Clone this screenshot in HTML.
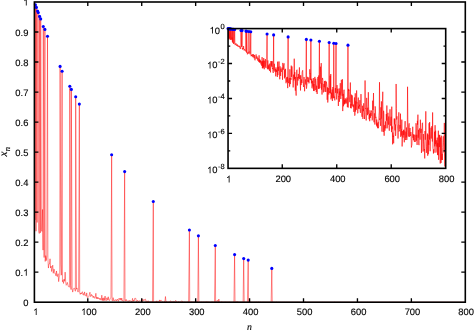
<!DOCTYPE html>
<html><head><meta charset="utf-8"><title>plot</title>
<style>
html,body{margin:0;padding:0;background:#fff;}
#w{position:relative;width:474px;height:333px;overflow:hidden;background:#fff;font-family:"Liberation Sans",sans-serif;}
.t{will-change:transform;text-rendering:geometricPrecision;position:absolute;white-space:nowrap;line-height:1;color:#000;-webkit-text-stroke:0.2px #000;font-family:"Liberation Sans",sans-serif;}
.sup{font-size:7.5px;position:relative;top:-4.5px;margin-left:0.5px}
.ser{will-change:transform;text-rendering:geometricPrecision;position:absolute;white-space:nowrap;line-height:1;color:#000;-webkit-text-stroke:0.2px #000;font-family:"Liberation Serif",serif;font-style:italic;}
.sub{font-size:8.5px;position:relative;top:2.9px;}
</style></head><body><div id="w">
<svg width="474" height="333" viewBox="0 0 474 333" style="position:absolute;left:0;top:0">
<rect width="474" height="333" fill="#fff"/>
<filter id="b" x="0" y="0" width="474" height="333" filterUnits="userSpaceOnUse"><feGaussianBlur stdDeviation="0.3"/></filter>
<path d="M34.40,2.00 L34.94,219.91 L35.40,4.80 L36.02,231.22 L36.40,7.40 L37.10,222.47 L37.60,11.00 L38.30,12.60 L38.71,230.54 L39.25,233.49 L39.60,16.40 L40.33,232.82 L40.70,18.90 L41.41,229.74 L41.95,231.42 L42.49,209.48 L43.03,250.14 L43.30,26.50 L44.11,257.52 L44.90,29.40 L45.19,261.46 L45.73,255.60 L46.26,260.62 L46.80,255.99 L47.50,36.20 L47.88,257.82 L48.42,268.09 L48.96,263.84 L49.50,263.91 L50.04,258.79 L50.58,267.99 L51.12,266.08 L51.66,271.52 L52.20,268.06 L52.74,265.15 L53.28,273.28 L53.81,269.15 L54.35,269.45 L54.89,273.56 L55.43,273.64 L55.97,275.84 L56.51,270.98 L57.05,276.56 L57.59,276.24 L58.13,273.69 L58.67,281.63 L59.21,276.88 L59.75,275.27 L60.10,66.40 L60.83,264.07 L61.36,275.17 L62.10,71.30 L62.44,281.69 L62.98,280.23 L63.52,283.44 L64.06,279.00 L64.60,281.25 L65.14,272.13 L65.68,281.70 L66.22,285.29 L66.76,284.51 L67.30,282.37 L67.84,284.51 L68.38,286.53 L68.92,286.93 L69.45,287.16 L69.80,86.30 L70.53,285.44 L71.07,289.57 L71.35,89.40 L72.15,288.34 L72.69,292.11 L73.23,289.54 L73.77,288.33 L74.31,288.16 L74.85,289.37 L75.39,291.26 L75.70,96.80 L76.47,289.19 L77.00,287.92 L77.54,291.23 L78.08,292.12 L78.62,290.86 L79.35,104.10 L79.70,292.37 L80.24,294.36 L80.78,292.92 L81.32,293.97 L81.86,292.41 L82.40,291.72 L82.94,294.57 L83.48,293.62 L84.02,295.38 L84.55,291.90 L85.09,294.67 L85.63,294.99 L86.17,296.23 L86.71,292.89 L87.25,297.34 L87.79,297.61 L88.33,297.01 L88.87,296.76 L89.41,294.20 L89.95,292.23 L90.49,296.38 L91.03,296.47 L91.57,294.45 L92.11,296.08 L92.64,295.76 L93.18,297.76 L93.72,296.10 L94.26,297.22 L94.80,298.37 L95.34,296.92 L95.88,293.29 L96.42,298.66 L96.96,297.02 L97.50,298.87 L98.04,297.33 L98.58,298.63 L99.12,298.03 L99.66,299.53 L100.19,298.22 L100.73,299.92 L101.27,300.00 L101.81,295.19 L102.35,300.57 L102.89,298.12 L103.43,300.61 L103.97,297.71 L104.51,300.41 L105.05,296.05 L105.59,299.43 L106.13,300.79 L106.67,297.96 L107.21,297.81 L107.74,300.20 L108.28,296.77 L108.82,299.96 L109.36,300.54 L109.90,299.36 L110.44,297.98 L110.98,297.29 L111.65,154.80 L112.06,300.53 L112.60,300.79 L113.14,297.66 L113.68,300.63 L114.22,299.83 L114.76,300.81 L115.29,300.36 L115.83,299.47 L116.37,301.06 L116.91,300.06 L117.45,299.14 L117.99,300.77 L118.53,301.26 L119.07,298.08 L119.61,299.01 L120.15,299.97 L120.69,298.09 L121.23,300.33 L121.77,298.13 L122.31,300.75 L122.85,300.52 L123.38,301.21 L123.92,301.33 L124.65,171.60 L125.00,300.76 L125.54,301.01 L126.08,299.30 L126.62,300.80 L127.16,301.17 L127.70,301.02 L128.24,300.71 L128.78,301.64 L129.32,300.39 L129.86,301.22 L130.40,300.87 L130.93,301.10 L131.47,301.47 L132.01,301.69 L132.55,298.36 L133.09,301.55 L133.63,300.27 L134.17,301.05 L134.71,298.36 L135.25,298.36 L135.79,298.35 L136.33,301.45 L136.87,301.82 L137.41,300.13 L137.95,300.75 L138.48,301.61 L139.02,300.68 L139.56,300.96 L140.10,301.20 L140.64,301.11 L141.18,300.43 L141.72,300.68 L142.26,301.85 L142.80,298.94 L143.34,300.26 L143.88,300.87 L144.42,299.67 L144.96,299.51 L145.50,299.15 L146.03,301.77 L146.57,300.86 L147.11,301.70 L147.65,301.62 L148.19,300.71 L148.73,301.86 L149.27,301.98 L149.81,301.73 L150.35,301.72 L150.89,301.94 L151.43,301.82 L151.97,301.69 L152.51,302.08 L153.30,201.50 L153.59,301.79 L154.12,301.97 L154.66,301.91 L155.20,301.79 L155.74,301.75 L156.28,302.06 L156.82,300.80 L157.36,301.98 L157.90,302.00 L158.44,301.75 L158.98,301.85 L159.52,299.92 L160.06,301.68 L160.60,300.37 L161.14,300.19 L161.67,301.36 L162.21,301.46 L162.75,301.88 L163.29,302.07 L163.83,301.97 L164.37,301.51 L164.91,301.88 L165.45,296.52 L165.99,301.80 L166.53,301.23 L167.07,301.85 L167.61,302.12 L168.15,301.69 L168.69,302.13 L169.22,302.16 L169.76,301.85 L170.30,300.93 L170.84,300.87 L171.38,302.03 L171.92,302.03 L172.46,301.69 L173.00,301.88 L173.54,301.44 L174.08,301.77 L174.62,301.69 L175.16,301.52 L175.70,300.40 L176.24,301.81 L176.77,301.57 L177.31,301.98 L177.85,302.11 L178.39,301.56 L178.93,302.02 L179.47,301.94 L180.01,301.83 L180.55,301.97 L181.09,301.26 L181.63,301.10 L182.17,300.97 L182.71,301.81 L183.25,301.94 L183.79,302.06 L184.33,302.05 L184.86,301.69 L185.40,302.01 L185.94,302.12 L186.48,302.04 L187.02,302.00 L187.56,301.83 L188.10,301.98 L188.64,302.01 L189.40,229.95 L189.72,302.09 L190.26,302.05 L190.80,301.99 L191.34,301.68 L191.88,301.82 L192.41,301.93 L192.95,301.87 L193.49,301.94 L194.03,301.72 L194.57,301.98 L195.11,301.88 L195.65,301.82 L196.19,300.79 L196.73,301.45 L197.27,301.39 L197.81,301.86 L198.40,235.85 L198.89,301.70 L199.43,301.98 L199.96,301.80 L200.50,302.08 L201.04,302.09 L201.58,301.89 L202.12,301.99 L202.66,302.06 L203.20,301.76 L203.74,302.12 L204.28,302.00 L204.82,302.12 L205.36,301.99 L205.90,301.76 L206.44,301.68 L206.98,302.11 L207.52,301.86 L208.05,301.79 L208.59,301.99 L209.13,302.13 L209.67,302.04 L210.21,302.05 L210.75,302.15 L211.29,301.89 L211.83,301.77 L212.37,301.69 L212.91,302.02 L213.45,302.09 L213.99,301.58 L214.53,302.10 L215.30,245.50 L215.60,302.00 L216.14,302.08 L216.68,301.93 L217.22,300.22 L217.76,301.32 L218.30,301.99 L218.84,299.02 L219.38,302.10 L219.92,301.97 L220.46,302.15 L221.00,301.88 L221.54,301.75 L222.08,301.88 L222.62,302.06 L223.15,302.13 L223.69,302.08 L224.23,302.00 L224.77,302.07 L225.31,301.90 L225.85,302.11 L226.39,302.13 L226.93,301.89 L227.47,302.09 L228.01,302.13 L228.55,302.05 L229.09,301.92 L229.63,302.00 L230.17,302.06 L230.70,302.17 L231.24,302.07 L231.78,302.18 L232.32,302.17 L232.86,302.08 L233.40,302.12 L233.94,302.15 L234.60,254.60 L235.02,302.12 L235.56,302.14 L236.10,302.12 L236.64,301.60 L237.18,302.14 L237.72,301.45 L238.26,302.17 L238.79,302.16 L239.33,302.14 L239.87,302.17 L240.41,302.10 L240.95,302.18 L241.49,302.09 L242.03,302.06 L242.57,302.13 L243.11,302.17 L243.70,258.60 L244.19,302.15 L244.73,302.17 L245.27,302.16 L245.81,302.18 L246.34,302.12 L246.88,302.08 L247.42,302.14 L248.20,260.10 L248.50,302.04 L249.04,302.17 L249.58,302.17 L250.12,302.02 L250.66,302.13 L251.20,302.14 L251.74,302.09 L252.28,302.15 L252.82,302.19 L253.36,302.16 L253.89,302.16 L254.43,302.09 L254.97,302.18 L255.51,302.12 L256.05,302.15 L256.59,301.97 L257.13,302.15 L257.67,302.17 L258.21,302.15 L258.75,301.85 L259.29,302.13 L259.83,302.14 L260.37,302.16 L260.91,301.82 L261.44,302.19 L261.98,302.17 L262.52,302.15 L263.06,302.19 L263.60,302.12 L264.14,302.10 L264.68,302.19 L265.22,302.18 L265.76,302.19 L266.30,302.17 L266.84,302.18 L267.38,302.18 L267.92,302.17 L268.46,302.18 L269.00,302.18 L269.53,302.17 L270.07,302.17 L270.61,302.19 L271.15,302.18 L271.80,268.40 L272.23,302.19 L272.77,302.09 L273.31,302.12 L273.85,302.10 L274.39,302.15 L274.93,302.17 L275.47,302.18 L276.01,302.16 L276.55,301.95 L277.08,302.19 L277.62,302.19 L278.16,302.19 L278.70,302.15 L279.24,302.19 L279.78,302.19 L280.32,302.16 L280.86,302.19 L281.40,302.19 L281.94,302.19 L282.48,302.19 L283.02,302.19 L283.56,302.19 L284.10,302.18 L284.63,302.17 L285.17,302.20 L285.71,302.20 L286.25,302.14 L286.79,302.19 L287.33,302.18 L287.87,302.19 L288.41,302.19 L288.95,302.11 L289.49,302.18 L290.03,302.18 L290.57,302.19 L291.11,302.20 L291.65,302.20 L292.18,302.17 L292.72,302.19 L293.26,302.19 L293.80,302.19 L294.34,302.19 L294.88,302.19 L295.42,302.18 L295.96,302.19 L296.50,302.20 L297.04,302.19 L297.58,302.15 L298.12,302.18 L298.66,302.19 L299.20,302.20 L299.74,302.20 L300.27,302.19 L300.81,302.19 L301.35,302.20 L301.89,302.19 L302.43,302.19 L302.97,302.18 L303.51,302.19 L304.05,302.20 L304.59,302.20 L305.13,302.20 L305.67,301.88 L306.21,302.19 L306.75,302.19 L307.29,302.19 L307.82,302.20 L308.36,302.20 L308.90,302.17 L309.44,302.19 L309.98,302.19 L310.52,302.20 L311.06,302.19 L311.60,302.20 L312.14,302.13 L312.68,302.19 L313.22,302.20 L313.76,302.20 L314.30,302.20 L314.84,302.20 L315.37,302.19 L315.91,302.19 L316.45,302.20 L316.99,302.20 L317.53,302.20 L318.07,302.20 L318.61,302.19 L319.15,302.19 L319.69,302.20 L320.23,302.20 L320.77,302.18 L321.31,302.19 L321.85,302.19 L322.39,302.14 L322.93,302.20 L323.46,302.20 L324.00,302.20 L324.54,302.20 L325.08,302.20 L325.62,302.19 L326.16,302.19 L326.70,302.20 L327.24,302.20 L327.78,302.20 L328.32,302.20 L328.86,302.20 L329.40,302.20 L329.94,302.20 L330.48,302.20 L331.01,302.20 L331.55,302.20 L332.09,302.20 L332.63,302.20 L333.17,302.20 L333.71,302.19 L334.25,301.94 L334.79,302.20 L335.33,302.20 L335.87,302.20 L336.41,302.20 L336.95,302.19 L337.49,302.20 L338.03,302.18 L338.56,302.20 L339.10,302.20 L339.64,302.19 L340.18,302.18 L340.72,302.13 L341.26,302.20 L341.80,302.20 L342.34,302.19 L342.88,302.20 L343.42,302.20 L343.96,302.20 L344.50,302.20 L345.04,302.20 L345.58,302.20 L346.11,302.20 L346.65,302.20 L347.19,302.20 L347.73,302.20 L348.27,302.20 L348.81,302.19 L349.35,302.20 L349.89,302.20 L350.43,302.20 L350.97,302.20 L351.51,302.20 L352.05,302.20 L352.59,302.20 L353.13,302.20 L353.67,302.20 L354.20,302.20 L354.74,302.19 L355.28,302.19 L355.82,302.20 L356.36,302.20 L356.90,302.20 L357.44,302.20 L357.98,302.20 L358.52,302.19 L359.06,302.20 L359.60,302.20 L360.14,302.20 L360.68,302.20 L361.22,302.20 L361.75,302.20 L362.29,302.20 L362.83,302.20 L363.37,302.20 L363.91,302.20 L364.45,302.20 L364.99,302.20 L365.53,302.20 L366.07,302.20 L366.61,302.20 L367.15,302.00 L367.69,302.19 L368.23,302.20 L368.77,302.20 L369.30,302.20 L369.84,302.20 L370.38,302.20 L370.92,302.20 L371.46,302.20 L372.00,302.20 L372.54,302.20 L373.08,302.20 L373.62,302.20 L374.16,302.20 L374.70,302.20 L375.24,302.20 L375.78,302.20 L376.32,302.20 L376.85,302.20 L377.39,302.20 L377.93,302.20 L378.47,302.20 L379.01,302.20 L379.55,302.20 L380.09,302.20 L380.63,302.20 L381.17,302.20 L381.71,302.20 L382.25,302.20 L382.79,302.20 L383.33,302.20 L383.87,302.20 L384.41,302.20 L384.94,302.20 L385.48,302.20 L386.02,302.20 L386.56,302.20 L387.10,302.20 L387.64,302.20 L388.18,302.20 L388.72,302.20 L389.26,302.20 L389.80,302.06 L390.34,302.20 L390.88,302.20 L391.42,302.20 L391.96,302.20 L392.49,302.20 L393.03,302.20 L393.57,302.20 L394.11,302.20 L394.65,302.20 L395.19,302.20 L395.73,302.20 L396.27,302.20 L396.81,302.20 L397.35,302.20 L397.89,302.20 L398.43,302.20 L398.97,302.20 L399.51,302.20 L400.04,302.20 L400.58,302.20 L401.12,302.20 L401.66,302.20 L402.20,302.20 L402.74,302.20 L403.28,302.20 L403.82,302.20 L404.36,302.20 L404.90,302.20 L405.44,302.20 L405.98,302.20 L406.52,302.20 L407.06,302.20 L407.59,302.20 L408.13,302.20 L408.67,302.20 L409.21,302.20 L409.75,302.20 L410.29,302.20 L410.83,302.20 L411.37,302.20 L411.91,302.20 L412.45,302.20 L412.99,302.20 L413.53,302.20 L414.07,302.20 L414.61,302.20 L415.15,302.20 L415.68,302.20 L416.22,302.20 L416.76,302.20 L417.30,302.20 L417.84,302.20 L418.38,302.20 L418.92,302.20 L419.46,302.20 L420.00,302.20 L420.54,302.20 L421.08,302.20 L421.62,302.20 L422.16,302.20 L422.70,302.20 L423.23,302.20 L423.77,302.20 L424.31,302.20 L424.85,302.20 L425.39,302.20 L425.93,302.19 L426.47,302.20 L427.01,302.20 L427.55,302.20 L428.09,302.20 L428.63,302.20 L429.17,302.20 L429.71,302.20 L430.25,302.20 L430.78,302.20 L431.32,302.20 L431.86,302.20 L432.40,302.20 L432.94,302.20 L433.48,302.20 L434.02,302.20 L434.56,302.20 L435.10,302.20 L435.64,302.20 L436.18,302.20 L436.72,302.20 L437.26,302.20 L437.80,302.20 L438.34,302.20 L438.87,302.20 L439.41,302.20 L439.95,302.20 L440.49,302.20 L441.03,302.20 L441.57,302.20 L442.11,302.20 L442.65,302.20 L443.19,302.20 L443.73,302.20 L444.27,302.20 L444.81,302.20 L445.35,302.20 L445.89,302.20 L446.42,302.20 L446.96,302.20 L447.50,302.20 L448.04,302.20 L448.58,302.20 L449.12,302.20 L449.66,302.20 L450.20,302.20 L450.74,302.20 L451.28,302.20 L451.82,302.20 L452.36,302.20 L452.90,302.20 L453.44,302.20 L453.97,302.20 L454.51,302.20 L455.05,302.20 L455.59,302.20 L456.13,302.20 L456.67,302.20 L457.21,302.20 L457.75,302.20 L458.29,302.20 L458.83,302.20 L459.37,302.20 L459.91,302.20 L460.45,302.20 L460.99,302.20 L461.52,302.20 L462.06,302.20 L462.60,302.20 L463.14,302.20 L463.68,302.20 L464.22,302.20 L464.76,302.20 L465.30,302.20" fill="none" stroke="#ff0000" stroke-width="0.46" stroke-linejoin="round" filter="url(#b)"/>
<circle cx="35.40" cy="4.80" r="1.55" fill="#0000ff"/>
<circle cx="36.40" cy="7.40" r="1.55" fill="#0000ff"/>
<circle cx="37.60" cy="11.00" r="1.55" fill="#0000ff"/>
<circle cx="38.30" cy="12.60" r="1.55" fill="#0000ff"/>
<circle cx="39.60" cy="16.40" r="1.55" fill="#0000ff"/>
<circle cx="40.70" cy="18.90" r="1.55" fill="#0000ff"/>
<circle cx="43.30" cy="26.50" r="1.55" fill="#0000ff"/>
<circle cx="44.90" cy="29.40" r="1.55" fill="#0000ff"/>
<circle cx="47.50" cy="36.20" r="1.55" fill="#0000ff"/>
<circle cx="60.10" cy="66.40" r="1.55" fill="#0000ff"/>
<circle cx="62.10" cy="71.30" r="1.55" fill="#0000ff"/>
<circle cx="69.80" cy="86.30" r="1.55" fill="#0000ff"/>
<circle cx="71.35" cy="89.40" r="1.55" fill="#0000ff"/>
<circle cx="75.70" cy="96.80" r="1.55" fill="#0000ff"/>
<circle cx="79.35" cy="104.10" r="1.55" fill="#0000ff"/>
<circle cx="111.65" cy="154.80" r="1.55" fill="#0000ff"/>
<circle cx="124.65" cy="171.60" r="1.55" fill="#0000ff"/>
<circle cx="153.30" cy="201.50" r="1.55" fill="#0000ff"/>
<circle cx="189.40" cy="229.95" r="1.55" fill="#0000ff"/>
<circle cx="198.40" cy="235.85" r="1.55" fill="#0000ff"/>
<circle cx="215.30" cy="245.50" r="1.55" fill="#0000ff"/>
<circle cx="234.60" cy="254.60" r="1.55" fill="#0000ff"/>
<circle cx="243.70" cy="258.60" r="1.55" fill="#0000ff"/>
<circle cx="248.20" cy="260.10" r="1.55" fill="#0000ff"/>
<circle cx="271.80" cy="268.40" r="1.55" fill="#0000ff"/>
<rect x="34.4" y="2.0" width="430.90" height="300.20" fill="none" stroke="#000" stroke-width="1.6"/>
<path d="M87.79,302.2 v-4.0 M87.79,2.0 v4.0 M141.72,302.2 v-4.0 M141.72,2.0 v4.0 M195.65,302.2 v-4.0 M195.65,2.0 v4.0 M249.58,302.2 v-4.0 M249.58,2.0 v4.0 M303.51,302.2 v-4.0 M303.51,2.0 v4.0 M357.44,302.2 v-4.0 M357.44,2.0 v4.0 M411.37,302.2 v-4.0 M411.37,2.0 v4.0 M34.4,272.18 h4.0 M465.3,272.18 h-4.0 M34.4,242.16 h4.0 M465.3,242.16 h-4.0 M34.4,212.14 h4.0 M465.3,212.14 h-4.0 M34.4,182.12 h4.0 M465.3,182.12 h-4.0 M34.4,152.10 h4.0 M465.3,152.10 h-4.0 M34.4,122.08 h4.0 M465.3,122.08 h-4.0 M34.4,92.06 h4.0 M465.3,92.06 h-4.0 M34.4,62.04 h4.0 M465.3,62.04 h-4.0 M34.4,32.02 h4.0 M465.3,32.02 h-4.0" stroke="#000" stroke-width="1.35" fill="none"/>
<rect x="228.05" y="28.6" width="217.65" height="139.75" fill="#fff"/>
<clipPath id="c"><rect x="228.05" y="26.6" width="217.65" height="141.75"/></clipPath>
<path d="M228.05,28.60 L228.32,38.42 L228.56,28.67 L228.87,39.54 L229.06,28.74 L229.41,38.66 L229.67,28.83 L230.02,28.87 L230.23,39.47 L230.50,39.79 L230.68,28.97 L231.05,39.71 L231.23,29.04 L231.59,39.38 L231.86,39.56 L232.14,37.51 L232.41,41.89 L232.55,29.25 L232.95,43.05 L233.35,29.33 L233.50,43.75 L233.77,42.73 L234.04,43.60 L234.32,42.80 L234.67,29.52 L234.86,43.10 L235.13,45.10 L235.40,44.21 L235.68,44.22 L235.95,43.27 L236.22,45.08 L236.49,44.67 L236.77,45.90 L237.04,45.09 L237.31,44.47 L237.58,46.35 L237.86,45.34 L238.13,45.41 L238.40,46.43 L238.67,46.45 L238.95,47.05 L239.22,45.77 L239.49,47.27 L239.76,47.17 L240.04,46.46 L240.31,48.94 L240.58,47.36 L240.85,46.89 L241.03,30.43 L241.40,44.26 L241.67,46.86 L242.04,30.59 L242.21,48.96 L242.49,48.44 L242.76,49.63 L243.03,48.03 L243.30,48.80 L243.58,46.06 L243.85,48.96 L244.12,50.42 L244.39,50.08 L244.67,49.22 L244.94,50.08 L245.21,51.00 L245.48,51.20 L245.76,51.31 L245.93,31.10 L246.30,50.49 L246.57,52.64 L246.71,31.21 L247.12,51.93 L247.39,54.34 L247.66,52.62 L247.94,51.93 L248.21,51.84 L248.48,52.52 L248.75,53.72 L248.91,31.48 L249.30,52.41 L249.57,51.70 L249.84,53.71 L250.11,54.35 L250.39,53.45 L250.75,31.75 L250.93,54.54 L251.20,56.26 L251.48,54.97 L251.75,55.88 L252.02,54.57 L252.29,54.06 L252.57,56.46 L252.84,55.57 L253.11,57.31 L253.38,54.18 L253.66,56.56 L253.93,56.89 L254.20,58.32 L254.47,54.95 L254.75,59.88 L255.02,60.31 L255.29,59.39 L255.56,59.03 L255.84,56.11 L256.11,54.43 L256.38,58.52 L256.65,58.64 L256.92,56.34 L257.20,58.13 L257.47,57.75 L257.74,60.57 L258.01,58.16 L258.29,59.70 L258.56,61.68 L258.83,59.26 L259.10,55.29 L259.38,62.28 L259.65,59.40 L259.92,62.75 L260.19,59.87 L260.47,62.23 L260.74,61.05 L261.01,64.44 L261.28,61.40 L261.56,65.64 L261.83,65.88 L262.10,57.11 L262.37,68.16 L262.65,61.21 L262.92,68.36 L263.19,60.49 L263.46,67.48 L263.73,58.09 L264.01,64.14 L264.28,69.26 L264.55,60.92 L264.82,60.65 L265.10,66.61 L265.37,59.05 L265.64,65.76 L265.91,68.04 L266.19,63.95 L266.46,60.96 L266.73,59.81 L267.07,34.00 L267.28,67.98 L267.55,69.25 L267.82,60.40 L268.09,68.47 L268.37,65.35 L268.64,69.37 L268.91,67.24 L269.18,64.25 L269.46,70.87 L269.73,66.12 L270.00,63.40 L270.27,69.14 L270.54,72.38 L270.82,61.14 L271.09,63.07 L271.36,65.79 L271.63,61.15 L271.91,67.12 L272.18,61.23 L272.45,69.04 L272.72,67.93 L273.00,71.92 L273.27,72.93 L273.64,34.91 L273.81,69.09 L274.09,70.54 L274.36,63.79 L274.63,69.31 L274.90,71.66 L275.18,70.60 L275.45,68.86 L275.72,76.31 L275.99,67.39 L276.27,72.00 L276.54,69.72 L276.81,71.14 L277.08,74.21 L277.35,76.94 L277.63,61.67 L277.90,75.11 L278.17,66.88 L278.44,70.83 L278.72,61.67 L278.99,61.66 L279.26,61.66 L279.53,74.04 L279.81,79.29 L280.08,66.37 L280.35,69.05 L280.62,75.91 L280.90,68.72 L281.17,70.23 L281.44,71.87 L281.71,71.22 L281.99,67.54 L282.26,68.70 L282.53,79.79 L282.80,62.91 L283.08,66.84 L283.35,69.72 L283.62,64.83 L283.89,64.37 L284.17,63.41 L284.44,78.36 L284.71,69.66 L284.98,77.14 L285.25,76.04 L285.53,68.83 L285.80,80.05 L286.07,83.25 L286.34,77.68 L286.62,77.37 L286.89,82.04 L287.16,79.17 L287.43,76.92 L287.71,88.13 L288.11,36.89 L288.25,78.55 L288.52,83.14 L288.80,81.39 L289.07,78.61 L289.34,77.95 L289.61,86.65 L289.89,69.32 L290.16,83.26 L290.43,84.10 L290.70,78.01 L290.98,79.81 L291.25,65.62 L291.52,76.87 L291.79,67.29 L292.06,66.58 L292.34,73.20 L292.61,74.12 L292.88,80.58 L293.15,87.42 L293.43,83.16 L293.70,74.68 L293.97,80.47 L294.24,58.70 L294.52,78.88 L294.79,72.11 L295.06,79.74 L295.33,90.65 L295.61,76.93 L295.88,91.80 L296.15,95.59 L296.42,79.80 L296.70,70.08 L296.97,69.73 L297.24,85.19 L297.51,85.44 L297.79,76.96 L298.06,80.55 L298.33,73.93 L298.60,78.32 L298.87,76.92 L299.15,74.82 L299.42,67.42 L299.69,79.02 L299.96,75.36 L300.24,83.27 L300.51,90.47 L300.78,75.30 L301.05,85.06 L301.33,82.16 L301.60,79.48 L301.87,82.97 L302.14,72.31 L302.42,71.14 L302.69,70.32 L302.96,79.07 L303.23,82.03 L303.51,87.01 L303.78,86.13 L304.05,77.06 L304.32,84.65 L304.60,91.27 L304.87,85.89 L305.14,84.09 L305.41,79.37 L305.68,83.49 L305.96,84.56 L306.34,39.41 L306.50,88.66 L306.77,86.31 L307.05,83.77 L307.32,76.84 L307.59,79.19 L307.86,81.70 L308.14,80.30 L308.41,81.98 L308.68,77.43 L308.95,83.35 L309.23,80.43 L309.50,79.20 L309.77,69.28 L310.04,74.04 L310.32,73.51 L310.59,80.10 L310.89,40.05 L311.13,77.13 L311.41,83.31 L311.68,78.86 L311.95,87.78 L312.22,88.39 L312.49,80.80 L312.77,83.68 L313.04,86.53 L313.31,78.03 L313.58,90.84 L313.86,84.01 L314.13,91.08 L314.40,83.62 L314.67,78.03 L314.95,76.87 L315.22,90.06 L315.49,80.07 L315.76,78.69 L316.04,83.63 L316.31,92.10 L316.58,85.72 L316.85,86.52 L317.13,94.00 L317.40,80.86 L317.67,78.34 L317.94,76.94 L318.22,84.84 L318.49,88.72 L318.76,75.45 L319.03,89.05 L319.42,41.24 L319.58,83.91 L319.85,88.12 L320.12,81.85 L320.39,66.69 L320.67,72.81 L320.94,83.62 L321.21,63.11 L321.48,89.60 L321.76,83.11 L322.03,94.54 L322.30,80.52 L322.57,77.92 L322.85,80.44 L323.12,86.98 L323.39,92.40 L323.66,87.76 L323.94,84.03 L324.21,87.27 L324.48,81.09 L324.75,89.82 L325.03,91.84 L325.30,80.80 L325.57,88.88 L325.84,91.93 L326.12,86.21 L326.39,81.61 L326.66,83.90 L326.93,86.56 L327.20,99.75 L327.48,87.39 L327.75,102.50 L328.02,99.11 L328.29,88.03 L328.57,90.94 L328.84,94.55 L329.17,42.57 L329.38,90.68 L329.66,93.07 L329.93,90.84 L330.20,75.76 L330.47,93.46 L330.75,74.04 L331.02,99.37 L331.29,95.68 L331.56,92.66 L331.84,97.85 L332.11,89.54 L332.38,101.03 L332.65,88.54 L332.93,87.00 L333.20,91.80 L333.47,98.24 L333.77,43.24 L334.01,94.28 L334.29,97.58 L334.56,96.71 L334.83,100.40 L335.10,90.62 L335.38,88.07 L335.65,92.86 L336.04,43.50 L336.19,85.88 L336.47,98.95 L336.74,99.46 L337.01,85.08 L337.28,91.81 L337.56,93.34 L337.83,88.77 L338.10,94.05 L338.37,105.98 L338.65,96.11 L338.92,96.73 L339.19,88.43 L339.46,101.76 L339.74,91.49 L340.01,95.15 L340.28,83.18 L340.55,94.60 L340.82,98.97 L341.10,94.06 L341.37,79.79 L341.64,91.95 L341.91,93.66 L342.19,95.82 L342.46,79.26 L342.73,111.08 L343.00,97.79 L343.28,93.89 L343.55,106.25 L343.82,91.27 L344.09,89.70 L344.37,104.38 L344.64,99.92 L344.91,104.07 L345.18,98.26 L345.46,102.59 L345.73,102.63 L346.00,99.29 L346.27,103.51 L346.55,102.45 L346.82,97.63 L347.09,97.98 L347.36,107.11 L347.63,101.24 L347.96,45.17 L348.18,107.56 L348.45,88.91 L348.72,90.92 L349.00,89.67 L349.27,94.69 L349.54,99.75 L349.81,102.18 L350.09,96.49 L350.36,82.52 L350.63,107.91 L350.90,103.94 L351.18,108.39 L351.45,94.67 L351.72,105.41 L351.99,105.06 L352.27,95.41 L352.54,105.56 L352.81,104.94 L353.08,107.10 L353.36,104.55 L353.63,108.55 L353.90,111.93 L354.17,103.49 L354.44,97.48 L354.72,115.67 L354.99,114.94 L355.26,93.31 L355.53,111.55 L355.81,101.21 L356.08,109.17 L356.35,109.84 L356.62,90.47 L356.90,103.35 L357.17,102.46 L357.44,111.58 L357.71,113.33 L357.99,112.93 L358.26,97.59 L358.53,108.36 L358.80,106.20 L359.08,109.10 L359.35,104.69 L359.62,106.38 L359.89,100.14 L360.17,111.93 L360.44,112.86 L360.71,107.43 L360.98,94.08 L361.26,103.40 L361.53,105.64 L361.80,115.40 L362.07,116.80 L362.34,108.62 L362.62,105.73 L362.89,118.95 L363.16,108.70 L363.43,111.13 L363.71,103.27 L363.98,110.34 L364.25,112.30 L364.52,119.01 L364.80,114.33 L365.07,80.48 L365.34,108.11 L365.61,109.05 L365.89,108.30 L366.16,120.47 L366.43,112.40 L366.70,97.86 L366.98,104.77 L367.25,111.43 L367.52,115.17 L367.79,107.73 L368.07,113.88 L368.34,92.24 L368.61,106.29 L368.88,113.65 L369.15,119.29 L369.43,113.86 L369.70,121.19 L369.97,110.35 L370.24,111.51 L370.52,117.79 L370.79,113.15 L371.06,115.92 L371.33,112.59 L371.61,110.51 L371.88,112.05 L372.15,120.40 L372.42,119.36 L372.70,100.69 L372.97,109.92 L373.24,104.87 L373.51,93.02 L373.79,118.33 L374.06,122.29 L374.33,113.33 L374.60,113.83 L374.88,124.54 L375.15,106.34 L375.42,108.40 L375.69,117.73 L375.96,116.89 L376.24,119.55 L376.51,125.51 L376.78,119.54 L377.05,126.70 L377.33,123.27 L377.60,128.19 L377.87,124.72 L378.14,121.83 L378.42,128.21 L378.69,126.42 L378.96,115.50 L379.23,111.97 L379.51,82.23 L379.78,120.04 L380.05,118.41 L380.32,121.14 L380.60,125.92 L380.87,107.32 L381.14,118.65 L381.41,101.37 L381.69,120.92 L381.96,131.62 L382.23,111.67 L382.50,101.29 L382.77,91.76 L383.05,123.12 L383.32,132.04 L383.59,110.79 L383.86,114.43 L384.14,135.72 L384.41,125.31 L384.68,126.37 L384.95,130.70 L385.23,126.69 L385.50,121.47 L385.77,128.32 L386.04,122.74 L386.32,114.06 L386.59,120.56 L386.86,105.52 L387.13,128.39 L387.41,124.95 L387.68,117.49 L387.95,112.81 L388.22,121.22 L388.50,124.67 L388.77,116.50 L389.04,127.51 L389.31,130.69 L389.58,120.80 L389.86,109.61 L390.13,109.27 L390.40,123.36 L390.67,125.70 L390.95,118.42 L391.22,116.74 L391.49,132.13 L391.76,106.66 L392.04,129.35 L392.31,126.41 L392.58,144.33 L392.85,132.47 L393.13,136.96 L393.40,135.66 L393.67,143.30 L393.94,129.77 L394.22,118.53 L394.49,124.40 L394.76,118.71 L395.03,130.43 L395.31,124.49 L395.58,135.86 L395.85,132.51 L396.12,83.98 L396.40,108.68 L396.67,119.47 L396.94,116.32 L397.21,124.16 L397.48,126.13 L397.76,130.19 L398.03,138.53 L398.30,132.55 L398.57,123.43 L398.85,112.34 L399.12,131.44 L399.39,131.13 L399.66,129.70 L399.94,124.90 L400.21,128.71 L400.48,113.66 L400.75,136.89 L401.03,129.26 L401.30,135.62 L401.57,130.35 L401.84,119.63 L402.12,146.46 L402.39,139.54 L402.66,131.07 L402.93,137.08 L403.21,137.56 L403.48,129.75 L403.75,135.08 L404.02,130.52 L404.29,142.30 L404.57,130.33 L404.84,128.73 L405.11,121.15 L405.38,140.05 L405.66,138.25 L405.93,131.60 L406.20,137.47 L406.47,127.53 L406.75,140.03 L407.02,137.62 L407.29,132.60 L407.56,86.77 L407.84,119.81 L408.11,129.58 L408.38,136.55 L408.65,127.86 L408.93,124.46 L409.20,123.33 L409.47,136.81 L409.74,131.15 L410.02,128.00 L410.29,133.99 L410.56,136.07 L410.83,132.03 L411.10,134.19 L411.38,147.45 L411.65,145.66 L411.92,145.14 L412.19,134.46 L412.47,134.51 L412.74,126.76 L413.01,137.77 L413.28,134.23 L413.56,140.18 L413.83,134.90 L414.10,140.83 L414.37,141.95 L414.65,141.32 L414.92,134.59 L415.19,141.95 L415.46,137.45 L415.74,134.35 L416.01,123.24 L416.28,125.88 L416.55,140.63 L416.83,134.75 L417.10,144.92 L417.37,120.80 L417.64,124.65 L417.91,114.66 L418.19,137.72 L418.46,129.83 L418.73,144.16 L419.00,145.15 L419.28,130.90 L419.55,128.42 L419.82,132.64 L420.09,139.65 L420.37,119.73 L420.64,126.95 L420.91,132.93 L421.18,128.86 L421.46,152.93 L421.73,133.67 L422.00,132.57 L422.27,123.07 L422.55,122.75 L422.82,139.92 L423.09,151.57 L423.36,134.04 L423.64,141.82 L423.91,144.81 L424.18,150.48 L424.45,149.05 L424.72,158.42 L425.00,131.01 L425.27,139.72 L425.54,131.93 L425.81,111.32 L426.09,139.56 L426.36,152.87 L426.63,146.38 L426.90,141.58 L427.18,139.11 L427.45,133.55 L427.72,155.71 L427.99,134.65 L428.27,154.16 L428.54,140.29 L428.81,144.84 L429.08,123.23 L429.36,139.59 L429.63,122.09 L429.90,146.72 L430.17,151.23 L430.45,138.91 L430.72,131.96 L430.99,127.69 L431.26,138.57 L431.54,135.05 L431.81,126.20 L432.08,131.51 L432.35,141.53 L432.62,112.45 L432.90,148.33 L433.17,148.83 L433.44,153.52 L433.71,149.39 L433.99,152.78 L434.26,150.20 L434.53,131.69 L434.80,146.36 L435.08,125.21 L435.35,144.23 L435.62,130.66 L435.89,152.60 L436.17,151.21 L436.44,141.30 L436.71,140.31 L436.98,146.55 L437.26,137.64 L437.53,154.89 L437.80,142.92 L438.07,155.22 L438.35,130.70 L438.62,159.77 L438.89,156.05 L439.16,134.85 L439.43,147.06 L439.71,134.93 L439.98,141.98 L440.25,163.53 L440.52,137.49 L440.80,153.04 L441.07,162.90 L441.34,135.71 L441.61,159.83 L441.89,155.24 L442.16,153.87 L442.43,160.02 L442.70,147.46 L442.98,140.25 L443.25,136.32 L443.52,142.53 L443.79,146.59 L444.07,152.61 L444.34,122.93 L444.61,158.82 L444.88,166.48 L445.16,153.24 L445.43,156.74 L445.70,168.35" fill="none" stroke="#ff0000" stroke-width="0.62" stroke-linejoin="round" clip-path="url(#c)"/>
<circle cx="228.05" cy="28.60" r="1.55" fill="#0000ff"/>
<circle cx="228.56" cy="28.67" r="1.55" fill="#0000ff"/>
<circle cx="229.06" cy="28.74" r="1.55" fill="#0000ff"/>
<circle cx="229.67" cy="28.83" r="1.55" fill="#0000ff"/>
<circle cx="230.02" cy="28.87" r="1.55" fill="#0000ff"/>
<circle cx="230.68" cy="28.97" r="1.55" fill="#0000ff"/>
<circle cx="231.23" cy="29.04" r="1.55" fill="#0000ff"/>
<circle cx="232.55" cy="29.25" r="1.55" fill="#0000ff"/>
<circle cx="233.35" cy="29.33" r="1.55" fill="#0000ff"/>
<circle cx="234.67" cy="29.52" r="1.55" fill="#0000ff"/>
<circle cx="241.03" cy="30.43" r="1.55" fill="#0000ff"/>
<circle cx="242.04" cy="30.59" r="1.55" fill="#0000ff"/>
<circle cx="245.93" cy="31.10" r="1.55" fill="#0000ff"/>
<circle cx="246.71" cy="31.21" r="1.55" fill="#0000ff"/>
<circle cx="248.91" cy="31.48" r="1.55" fill="#0000ff"/>
<circle cx="250.75" cy="31.75" r="1.55" fill="#0000ff"/>
<circle cx="267.07" cy="34.00" r="1.55" fill="#0000ff"/>
<circle cx="273.64" cy="34.91" r="1.55" fill="#0000ff"/>
<circle cx="288.11" cy="36.89" r="1.55" fill="#0000ff"/>
<circle cx="306.34" cy="39.41" r="1.55" fill="#0000ff"/>
<circle cx="310.89" cy="40.05" r="1.55" fill="#0000ff"/>
<circle cx="319.42" cy="41.24" r="1.55" fill="#0000ff"/>
<circle cx="329.17" cy="42.57" r="1.55" fill="#0000ff"/>
<circle cx="333.77" cy="43.24" r="1.55" fill="#0000ff"/>
<circle cx="336.04" cy="43.50" r="1.55" fill="#0000ff"/>
<circle cx="347.96" cy="45.17" r="1.55" fill="#0000ff"/>
<rect x="228.05" y="28.6" width="217.65" height="139.75" fill="none" stroke="#000" stroke-width="1.6"/>
<path d="M282.26,168.35 v-4.0 M282.26,28.6 v4.0 M336.74,168.35 v-4.0 M336.74,28.6 v4.0 M391.22,168.35 v-4.0 M391.22,28.6 v4.0 M228.05,46.07 h2.2 M445.7,46.07 h-2.2 M228.05,63.54 h4.0 M445.7,63.54 h-4.0 M228.05,81.01 h2.2 M445.7,81.01 h-2.2 M228.05,98.47 h4.0 M445.7,98.47 h-4.0 M228.05,115.94 h2.2 M445.7,115.94 h-2.2 M228.05,133.41 h4.0 M445.7,133.41 h-4.0 M228.05,150.88 h2.2 M445.7,150.88 h-2.2" stroke="#000" stroke-width="1.35" fill="none"/>
</svg>
<svg width="474" height="333" viewBox="0 0 474 333" style="position:absolute;left:0;top:0;will-change:transform">
<g fill="#000" stroke="#000" stroke-width="0.15" font-family="Liberation Sans, sans-serif" text-rendering="geometricPrecision"><path d="M373 0H285V-560Q253 -530 202 -500T109 -455V-540Q185 -576 242 -627T323 -726H373Z" transform="translate(33.09,315.00) scale(0.00940)"/><path d="M373 0H285V-560Q253 -530 202 -500T109 -455V-540Q185 -576 242 -627T323 -726H373Z" transform="translate(81.05,315.00) scale(0.00940)"/><text x="86.28" y="315.00" font-size="9.4">0</text><text x="91.50" y="315.00" font-size="9.4">0</text><text x="134.98" y="315.00" font-size="9.4">2</text><text x="140.21" y="315.00" font-size="9.4">0</text><text x="145.43" y="315.00" font-size="9.4">0</text><text x="188.91" y="315.00" font-size="9.4">3</text><text x="194.14" y="315.00" font-size="9.4">0</text><text x="199.36" y="315.00" font-size="9.4">0</text><text x="242.84" y="315.00" font-size="9.4">4</text><text x="248.07" y="315.00" font-size="9.4">0</text><text x="253.29" y="315.00" font-size="9.4">0</text><text x="296.77" y="315.00" font-size="9.4">5</text><text x="302.00" y="315.00" font-size="9.4">0</text><text x="307.22" y="315.00" font-size="9.4">0</text><text x="350.70" y="315.00" font-size="9.4">6</text><text x="355.93" y="315.00" font-size="9.4">0</text><text x="361.15" y="315.00" font-size="9.4">0</text><text x="404.63" y="315.00" font-size="9.4">7</text><text x="409.86" y="315.00" font-size="9.4">0</text><text x="415.08" y="315.00" font-size="9.4">0</text><text x="458.36" y="315.00" font-size="9.4">8</text><text x="463.59" y="315.00" font-size="9.4">0</text><text x="468.81" y="315.00" font-size="9.4">0</text><text x="23.17" y="305.70" font-size="9.4">0</text><text x="15.33" y="275.68" font-size="9.4">0</text><text x="20.56" y="275.68" font-size="9.4">.</text><path d="M373 0H285V-560Q253 -530 202 -500T109 -455V-540Q185 -576 242 -627T323 -726H373Z" transform="translate(23.17,275.68) scale(0.00940)"/><text x="15.33" y="245.66" font-size="9.4">0</text><text x="20.56" y="245.66" font-size="9.4">.</text><text x="23.17" y="245.66" font-size="9.4">2</text><text x="15.33" y="215.64" font-size="9.4">0</text><text x="20.56" y="215.64" font-size="9.4">.</text><text x="23.17" y="215.64" font-size="9.4">3</text><text x="15.33" y="185.62" font-size="9.4">0</text><text x="20.56" y="185.62" font-size="9.4">.</text><text x="23.17" y="185.62" font-size="9.4">4</text><text x="15.33" y="155.60" font-size="9.4">0</text><text x="20.56" y="155.60" font-size="9.4">.</text><text x="23.17" y="155.60" font-size="9.4">5</text><text x="15.33" y="125.58" font-size="9.4">0</text><text x="20.56" y="125.58" font-size="9.4">.</text><text x="23.17" y="125.58" font-size="9.4">6</text><text x="15.33" y="95.56" font-size="9.4">0</text><text x="20.56" y="95.56" font-size="9.4">.</text><text x="23.17" y="95.56" font-size="9.4">7</text><text x="15.33" y="65.54" font-size="9.4">0</text><text x="20.56" y="65.54" font-size="9.4">.</text><text x="23.17" y="65.54" font-size="9.4">8</text><text x="15.33" y="35.52" font-size="9.4">0</text><text x="20.56" y="35.52" font-size="9.4">.</text><text x="23.17" y="35.52" font-size="9.4">9</text><path d="M373 0H285V-560Q253 -530 202 -500T109 -455V-540Q185 -576 242 -627T323 -726H373Z" transform="translate(23.17,5.50) scale(0.00940)"/><path d="M373 0H285V-560Q253 -530 202 -500T109 -455V-540Q185 -576 242 -627T323 -726H373Z" transform="translate(226.04,182.40) scale(0.00940)"/><text x="275.42" y="182.40" font-size="9.4">2</text><text x="280.64" y="182.40" font-size="9.4">0</text><text x="285.87" y="182.40" font-size="9.4">0</text><text x="329.90" y="182.40" font-size="9.4">4</text><text x="335.13" y="182.40" font-size="9.4">0</text><text x="340.35" y="182.40" font-size="9.4">0</text><text x="384.38" y="182.40" font-size="9.4">6</text><text x="389.61" y="182.40" font-size="9.4">0</text><text x="394.83" y="182.40" font-size="9.4">0</text><text x="438.86" y="182.40" font-size="9.4">8</text><text x="444.09" y="182.40" font-size="9.4">0</text><text x="449.31" y="182.40" font-size="9.4">0</text><text x="220.53" y="28.90" font-size="7.5">0</text><path d="M373 0H285V-560Q253 -530 202 -500T109 -455V-540Q185 -576 242 -627T323 -726H373Z" transform="translate(209.48,33.50) scale(0.00940)"/><text x="214.70" y="33.50" font-size="9.4">0</text><text x="218.03" y="63.84" font-size="7.5">-</text><text x="220.53" y="63.84" font-size="7.5">2</text><path d="M373 0H285V-560Q253 -530 202 -500T109 -455V-540Q185 -576 242 -627T323 -726H373Z" transform="translate(206.98,68.44) scale(0.00940)"/><text x="212.21" y="68.44" font-size="9.4">0</text><text x="218.03" y="98.77" font-size="7.5">-</text><text x="220.53" y="98.77" font-size="7.5">4</text><path d="M373 0H285V-560Q253 -530 202 -500T109 -455V-540Q185 -576 242 -627T323 -726H373Z" transform="translate(206.98,103.38) scale(0.00940)"/><text x="212.21" y="103.38" font-size="9.4">0</text><text x="218.03" y="133.71" font-size="7.5">-</text><text x="220.53" y="133.71" font-size="7.5">6</text><path d="M373 0H285V-560Q253 -530 202 -500T109 -455V-540Q185 -576 242 -627T323 -726H373Z" transform="translate(206.98,138.31) scale(0.00940)"/><text x="212.21" y="138.31" font-size="9.4">0</text><text x="218.03" y="168.65" font-size="7.5">-</text><text x="220.53" y="168.65" font-size="7.5">8</text><path d="M373 0H285V-560Q253 -530 202 -500T109 -455V-540Q185 -576 242 -627T323 -726H373Z" transform="translate(206.98,173.25) scale(0.00940)"/><text x="212.21" y="173.25" font-size="9.4">0</text></g>
<g fill="#000" stroke="#000" stroke-width="0.15" font-family="Liberation Serif, serif" font-style="italic" text-rendering="geometricPrecision"><text x="247.0" y="330.0" font-size="9.8">n</text><g transform="translate(6.7,156.6) rotate(-90)"><text x="0" y="0" font-size="11.5">x</text><text x="5.3" y="3.4" font-size="8.5">n</text></g></g></svg>

</div></body></html>
